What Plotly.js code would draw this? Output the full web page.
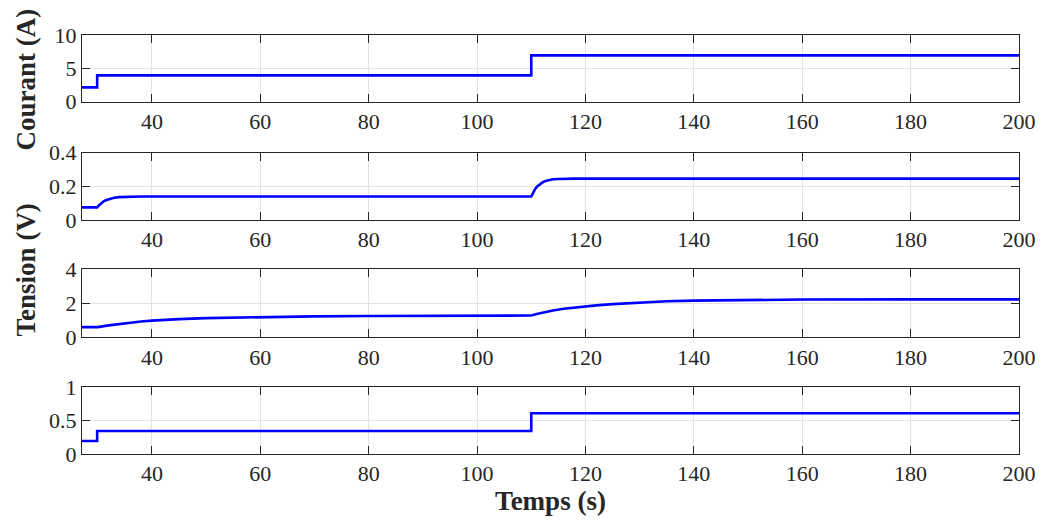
<!DOCTYPE html>
<html>
<head>
<meta charset="utf-8">
<script src="https://cdn.plot.ly/plotly-3.0.1.min.js"></script>
<style>
html,body{margin:0;padding:0;background:#fff;}
#chart{width:1045px;height:529px;}
#chart .xtick text, #chart .ytick text, #chart .xtick, #chart .ytick {font-family: "Liberation Serif", serif !important;}
</style>
</head>
<body>
<div id="chart"></div>
<script>
// Courant (A)
const tCourant = [27.1, 29.9, 29.9, 110, 110, 200];
const vCourant = [2.15, 2.15, 3.95, 3.95, 6.95, 6.95];
// Tension panel 2 (V)
const tTension1 = [27.1, 29.9, 30.2, 30.5, 30.8, 31.1, 31.5, 32, 32.5, 33, 34, 35, 36, 38, 110, 110.3, 110.7, 111.1, 111.6, 112.2, 112.8, 113.4, 114, 115, 116, 118, 200];
const vTension1 = [0.075, 0.075, 0.086, 0.096, 0.104, 0.111, 0.118, 0.124, 0.129, 0.132, 0.136, 0.138, 0.139, 0.14, 0.14, 0.162, 0.183, 0.199, 0.214, 0.226, 0.234, 0.239, 0.242, 0.244, 0.245, 0.246, 0.246];
// Tension panel 3 (V)
const tTension2 = [27.1, 30, 32, 34, 36, 38, 40, 42, 45, 50, 55, 60, 70, 80, 90, 110, 111, 112, 114, 116, 118, 120, 122, 125, 130, 135, 140, 145, 150, 160, 180, 200];
const vTension2 = [0.6, 0.6, 0.7, 0.79, 0.86, 0.93, 0.98, 1.02, 1.07, 1.13, 1.16, 1.19, 1.23, 1.25, 1.27, 1.28, 1.37, 1.45, 1.58, 1.68, 1.76, 1.82, 1.88, 1.95, 2.05, 2.12, 2.16, 2.18, 2.2, 2.22, 2.23, 2.23];
// Panel 4
const tPanel4 = [27.1, 29.9, 29.9, 110, 110, 200];
const vPanel4 = [0.195, 0.195, 0.345, 0.345, 0.61, 0.61];

const xTicks = [40, 60, 80, 100, 120, 140, 160, 180, 200];
const yTicks1 = [0, 5, 10];
const yTicks2 = [0, 0.2, 0.4];
const yTicks3 = [0, 2, 4];
const yTicks4 = [0, 0.5, 1];

const fontFam = 'Liberation Serif';
const lineStyle = {color: '#0000ff', width: 2.6};

const traces = [
  {x: tCourant, y: vCourant, xaxis: 'x', yaxis: 'y'},
  {x: tTension1, y: vTension1, xaxis: 'x2', yaxis: 'y2'},
  {x: tTension2, y: vTension2, xaxis: 'x3', yaxis: 'y3'},
  {x: tPanel4, y: vPanel4, xaxis: 'x4', yaxis: 'y4'}
].map(t => Object.assign({type: 'scatter', mode: 'lines', showlegend: false, line: lineStyle}, t));

function xax(anchor) {
  return {
    anchor: anchor, range: [27.1, 200], tickvals: xTicks,
    showgrid: true, gridcolor: '#e3e3e3', gridwidth: 1, zeroline: false,
    showline: true, linecolor: '#262626', linewidth: 1, mirror: 'ticks',
    ticks: 'inside', ticklen: 8, tickcolor: '#262626',
    tickfont: {family: fontFam, size: 22, color: '#262626'}
  };
}
function yax(anchor, domain, range, ticks) {
  return {
    anchor: anchor, domain: domain, range: range, tickvals: ticks,
    showgrid: true, gridcolor: '#e3e3e3', gridwidth: 1, zeroline: false,
    showline: true, linecolor: '#262626', linewidth: 1, mirror: 'ticks',
    ticks: 'inside', ticklen: 8, tickcolor: '#262626',
    tickfont: {family: fontFam, size: 22, color: '#262626'}
  };
}

const layout = {
  width: 1045, height: 529,
  font: {family: fontFam, color: '#262626'},
  margin: {l: 82, r: 26, t: 35, b: 75},
  paper_bgcolor: '#ffffff', plot_bgcolor: '#ffffff',
  xaxis: xax('y'), xaxis2: xax('y2'), xaxis3: xax('y3'), xaxis4: Object.assign(xax('y4'), {
    title: {text: '<b>Temps (s)</b>', font: {family: fontFam, size: 27, color: '#262626'}, standoff: 4}
  }),
  yaxis: yax('x', [0.8408, 1.0], [0, 10], yTicks1),
  yaxis2: yax('x2', [0.5585, 0.7191], [0, 0.4], yTicks2),
  yaxis3: yax('x3', [0.2785, 0.4408], [0, 4], yTicks3),
  yaxis4: yax('x4', [0, 0.1592], [0, 1], yTicks4),
  annotations: [
    {text: '<b>Courant (A)</b>', xref: 'paper', yref: 'paper', x: -0.06, y: 0.893, xanchor: 'center', yanchor: 'middle',
     textangle: -90, showarrow: false, font: {family: fontFam, size: 27, color: '#262626'}},
    {text: '<b>Tension (V)</b>', xref: 'paper', yref: 'paper', x: -0.06, y: 0.44, xanchor: 'center', yanchor: 'middle',
     textangle: -90, showarrow: false, font: {family: fontFam, size: 27, color: '#262626'}}
  ]
};

Plotly.newPlot('chart', traces, layout, {staticPlot: true});
</script>
</body>
</html>
